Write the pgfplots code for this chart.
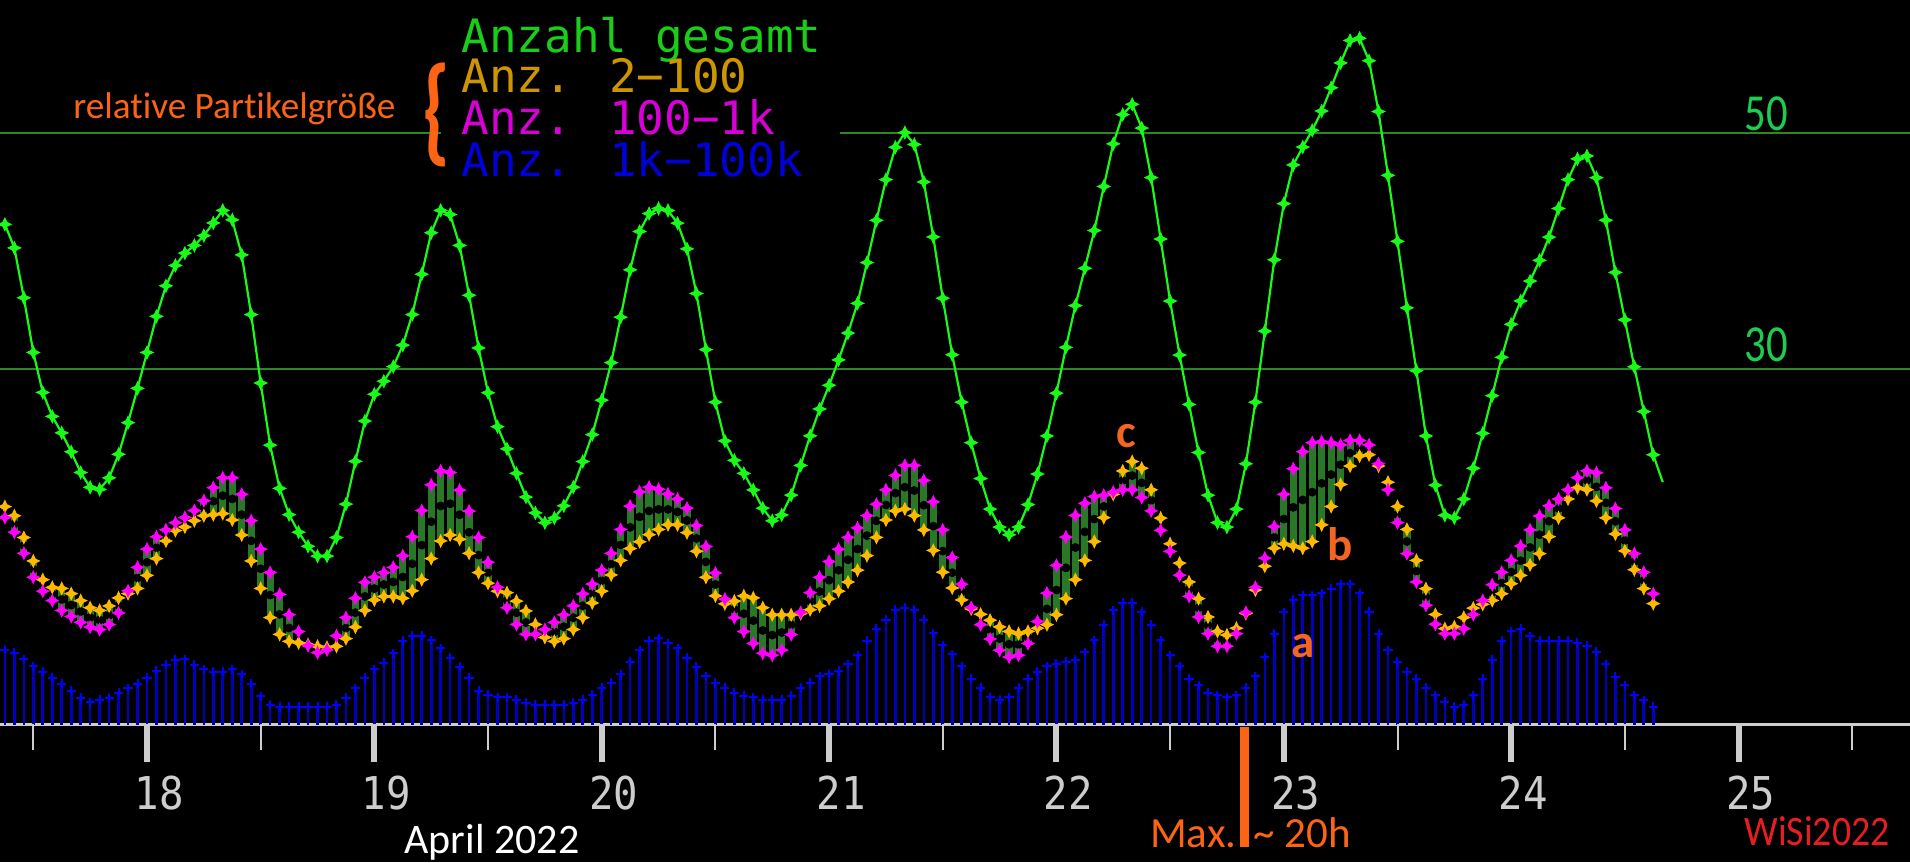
\documentclass[border=0pt]{standalone}
\usepackage{pgfplots}
\pgfplotsset{compat=1.18}
\usepackage{pgfplotstable}
\usepackage{graphicx}
\usepackage{fontspec}
\newfontfamily\carlito[Ligatures=NoCommon]{Carlito}
\newfontfamily\dvmono{DejaVu Sans Mono}

\definecolor{lineGreen}{RGB}{25,250,25}
\definecolor{gridGreen}{RGB}{45,135,40}
\definecolor{barGreen}{RGB}{40,120,40}
\definecolor{mag}{RGB}{255,0,255}
\definecolor{amber}{RGB}{255,185,0}
\definecolor{blueBar}{RGB}{0,0,190}
\definecolor{blueMark}{RGB}{0,0,255}
\definecolor{tickGray}{RGB}{205,205,205}
\definecolor{labGreen}{RGB}{30,205,80}
\definecolor{legGreen}{RGB}{25,205,25}
\definecolor{legGold}{RGB}{205,150,0}
\definecolor{legMag}{RGB}{215,0,215}
\definecolor{legBlue}{RGB}{0,0,215}
\definecolor{txtOrange}{RGB}{250,100,20}
\definecolor{annOrange}{RGB}{242,101,34}
\definecolor{wisiRed}{RGB}{230,30,36}

\pgfdeclareplotmark{spark}{%
  \pgfpathmoveto{\pgfqpoint{0pt}{\pgfplotmarksize}}%
  \pgfpathlineto{\pgfqpoint{0.32\pgfplotmarksize}{0.32\pgfplotmarksize}}%
  \pgfpathlineto{\pgfqpoint{\pgfplotmarksize}{0pt}}%
  \pgfpathlineto{\pgfqpoint{0.32\pgfplotmarksize}{-0.32\pgfplotmarksize}}%
  \pgfpathlineto{\pgfqpoint{0pt}{-\pgfplotmarksize}}%
  \pgfpathlineto{\pgfqpoint{-0.32\pgfplotmarksize}{-0.32\pgfplotmarksize}}%
  \pgfpathlineto{\pgfqpoint{-\pgfplotmarksize}{0pt}}%
  \pgfpathlineto{\pgfqpoint{-0.32\pgfplotmarksize}{0.32\pgfplotmarksize}}%
  \pgfpathclose
  \pgfusepathqfillstroke}

% Anzahl gesamt, hourly from 17 April 09:00
\pgfplotstableread[row sep=\\]{
g\\
42.25\\40.26\\36.05\\31.43\\28.05\\26.03\\24.64\\23.04\\21.29\\20.04\\
19.86\\20.84\\22.83\\25.50\\28.40\\31.43\\34.48\\37.06\\38.78\\39.82\\
40.47\\41.30\\42.37\\43.43\\42.63\\39.67\\34.63\\28.85\\23.60\\19.95\\
17.73\\16.25\\15.06\\14.23\\14.23\\15.80\\18.62\\22.24\\25.64\\27.90\\
29.00\\30.24\\32.05\\34.63\\38.04\\41.54\\43.43\\43.08\\40.47\\36.26\\
31.81\\28.03\\25.16\\23.29\\21.22\\19.22\\17.88\\17.05\\17.45\\18.48\\
20.05\\22.22\\24.49\\27.40\\30.57\\34.41\\38.41\\41.65\\43.16\\43.59\\
43.42\\42.35\\40.18\\36.41\\31.67\\27.23\\23.96\\22.32\\21.22\\19.82\\
18.28\\17.21\\17.71\\19.38\\21.89\\24.39\\26.66\\28.66\\30.80\\33.07\\
35.58\\39.02\\42.59\\46.03\\48.76\\50.00\\49.00\\45.83\\41.19\\36.01\\
31.24\\27.23\\23.81\\20.78\\18.20\\16.68\\16.03\\16.68\\18.58\\21.16\\
24.38\\27.99\\31.86\\35.39\\38.54\\41.73\\45.45\\49.05\\51.52\\52.39\\
50.38\\46.20\\41.01\\35.77\\31.21\\27.04\\22.98\\19.37\\17.06\\16.68\\
18.20\\22.03\\27.23\\33.23\\39.26\\44.00\\47.27\\48.78\\50.19\\51.82\\
53.79\\55.88\\57.78\\57.97\\56.07\\51.78\\46.39\\40.82\\35.20\\29.89\\
24.38\\20.22\\17.68\\17.46\\19.05\\21.65\\24.60\\27.78\\31.02\\33.81\\
35.78\\37.46\\39.21\\41.17\\43.59\\46.03\\47.78\\48.03\\46.19\\42.60\\
38.19\\34.19\\30.22\\26.44\\22.79\\20.48\\
}\tblG

% o = Anz. 2-100, m = Anz. 100-1k, b = Anz. 1k-100k (hourly)
\pgfplotstableread[row sep=\\]{
o m b\\
18.41 17.49 6.31\\ 17.64 16.25 6.08\\ 15.80 14.47 5.51\\ 13.82 12.45 4.92\\ 12.24 11.27 4.48\\
11.59 10.47 3.94\\ 11.50 9.64 3.44\\ 11.06 9.13 2.85\\ 10.47 8.63 2.25\\ 9.87 8.24 1.87\\
9.64 8.03 2.08\\ 10.02 8.45 2.25\\ 10.70 9.43 2.70\\ 11.06 11.30 3.05\\ 11.50 13.28 3.44\\
12.60 14.82 3.94\\ 14.02 15.86 4.54\\ 15.51 16.45 5.07\\ 16.39 17.05 5.48\\ 16.69 17.49 5.51\\
17.22 18.08 5.07\\ 17.64 18.91 4.68\\ 17.73 20.01 4.48\\ 17.82 20.84 4.48\\ 17.28 20.84 4.68\\
16.01 19.45 4.24\\ 13.82 17.22 3.44\\ 11.50 14.82 2.40\\ 9.04 12.84 1.66\\ 7.62 11.00 1.48\\
7.03 9.28 1.48\\ 6.91 7.86 1.48\\ 6.76 6.67 1.48\\ 6.61 6.08 1.48\\ 6.52 6.31 1.48\\
6.61 7.50 1.66\\ 7.26 9.04 2.25\\ 8.24 10.67 3.05\\ 9.64 12.01 3.94\\ 10.52 12.45 4.68\\
10.82 12.84 5.22\\ 10.82 13.28 6.02\\ 10.67 14.26 7.06\\ 11.30 15.86 7.50\\ 12.24 18.08 7.50\\
14.02 20.25 7.12\\ 15.51 21.43 6.46\\ 16.01 21.29 5.66\\ 15.65 19.80 4.89\\ 14.47 18.03 3.94\\
12.84 15.80 2.85\\ 11.94 13.71 2.52\\ 11.27 11.60 2.29\\ 11.14 9.87 2.29\\ 10.43 8.46 2.09\\
9.60 7.63 1.85\\ 8.46 7.63 1.69\\ 7.36 8.03 1.69\\ 7.03 8.63 1.69\\ 7.26 9.27 1.69\\
8.03 10.03 1.85\\ 9.03 11.04 2.09\\ 10.27 11.87 2.52\\ 11.27 13.04 3.09\\ 12.64 14.47 3.52\\
13.87 16.48 4.26\\ 14.87 18.45 5.29\\ 15.44 19.65 6.29\\ 16.04 20.05 7.10\\ 16.48 19.88 7.30\\
16.88 19.48 6.86\\ 16.88 19.05 6.46\\ 16.21 18.28 5.63\\ 14.64 16.81 4.86\\ 12.44 15.04 4.09\\
10.87 12.80 3.52\\ 10.20 10.60 3.09\\ 10.43 9.03 2.69\\ 10.87 7.86 2.45\\ 10.70 6.86 2.29\\
9.87 6.03 2.09\\ 9.27 5.86 2.09\\ 9.27 6.29 2.09\\ 9.27 7.60 2.45\\ 9.37 9.47 3.09\\
9.70 11.14 3.52\\ 10.03 12.44 4.09\\ 10.63 13.77 4.26\\ 11.27 14.81 4.52\\ 12.04 15.81 5.09\\
13.04 16.61 5.86\\ 14.27 17.65 7.10\\ 15.81 18.61 8.10\\ 17.28 19.82 8.86\\ 18.05 21.05 9.70\\
18.21 21.89 9.87\\ 17.65 21.89 9.70\\ 16.44 20.62 8.86\\ 14.71 18.81 7.70\\ 12.87 16.44 6.69\\
11.54 14.11 5.93\\ 10.53 11.86 4.91\\ 9.77 9.89 3.89\\ 9.32 8.44 3.13\\ 8.82 7.23 2.30\\
8.25 6.28 2.07\\ 7.87 5.71 2.30\\ 7.68 5.86 3.13\\ 7.87 6.85 3.89\\ 8.14 8.71 4.46\\
8.44 11.10 4.91\\ 9.28 13.45 5.14\\ 10.64 15.84 5.29\\ 12.24 17.67 5.48\\ 13.87 18.69 6.09\\
15.46 19.26 7.12\\ 17.48 19.37 8.44\\ 19.45 19.64 9.66\\ 21.42 19.83 10.27\\ 22.22 19.83 10.27\\
21.65 19.18 9.51\\ 19.83 18.05 8.44\\ 17.44 16.41 7.12\\ 15.27 14.63 5.86\\ 13.64 12.62 4.91\\
12.05 10.83 3.89\\ 10.64 9.09 3.32\\ 9.09 7.68 2.68\\ 7.87 6.62 2.49\\ 7.57 6.62 2.30\\
8.14 7.68 2.49\\ 9.39 9.47 3.13\\ 11.37 11.59 4.08\\ 13.38 14.06 5.67\\ 14.90 16.72 7.68\\
15.27 19.45 9.47\\ 15.09 21.61 10.53\\ 14.90 23.05 10.91\\ 15.46 23.81 10.91\\ 16.87 23.89 11.10\\
18.42 23.81 11.48\\ 20.28 23.62 11.86\\ 21.84 24.00 11.86\\ 22.68 24.00 11.10\\ 22.79 23.62 9.51\\
21.84 22.03 7.68\\ 20.47 19.83 6.28\\ 18.42 17.06 5.29\\ 16.49 14.44 4.46\\ 13.87 12.05 3.89\\
11.48 10.08 3.13\\ 9.30 8.48 2.48\\ 8.10 7.68 1.90\\ 8.25 7.68 1.49\\ 9.05 8.10 1.68\\
9.84 9.30 2.48\\ 10.16 10.48 3.87\\ 10.48 11.81 5.46\\ 11.05 12.86 7.08\\ 11.90 13.87 7.87\\
12.60 15.08 8.10\\ 13.49 16.44 7.46\\ 14.44 17.62 7.08\\ 15.87 18.48 7.08\\ 17.46 19.05 7.08\\
19.05 19.84 7.08\\ 20.00 20.86 6.89\\ 19.84 21.43 6.67\\ 18.89 21.27 6.13\\ 17.46 20.00 5.08\\
16.10 18.25 4.06\\ 14.67 16.44 3.33\\ 13.08 14.44 2.48\\ 11.49 12.86 2.06\\ 10.22 11.05 1.52\\
}\tblOMB

\begin{document}
\begin{tikzpicture}
\fill[black] (0,0) rectangle (955pt,431pt);
\begin{axis}[
  at={(0,0)}, anchor=south west,
  scale only axis, width=955pt, height=431pt,
  xmin=17.35346, xmax=25.75423, ymin=-11.605, ymax=61.199,
  hide axis, clip=true]
% grid lines and base line
\draw[gridGreen, line width=1pt] (axis cs:17.35346,50) -- (axis cs:25.75423,50);
\draw[gridGreen, line width=1pt] (axis cs:17.35346,30) -- (axis cs:25.75423,30);
\draw[tickGray, line width=1.15pt] (axis cs:17.35346,0) -- (axis cs:25.75423,0);
% Anz. 1k-100k
\addplot[ycomb, blueBar, line width=1.3pt, mark=+, mark size=2.3pt,
  mark options={blueMark, line width=1pt}]
  table[x expr=17.375+\coordindex/24, y=b] {\tblOMB};
% bars between Anz. 2-100 and Anz. 100-1k
\addplot[only marks, mark=none,
  error bars/.cd, y dir=both, y explicit, error mark=none,
  error bar style={solid, draw=barGreen, line width=3.6pt, line cap=butt}]
  table[x expr=17.375+\coordindex/24,
        y expr=(\thisrow{o}+\thisrow{m})/2,
        y error expr=abs(\thisrow{m}-\thisrow{o})/2] {\tblOMB};
% Anz. 2-100
\addplot[only marks, mark=spark, mark size=2.9pt,
  mark options={draw=amber, fill=amber, line width=0.6pt}]
  table[x expr=17.375+\coordindex/24, y=o] {\tblOMB};
% Anz. 100-1k
\addplot[only marks, mark=spark, mark size=2.9pt,
  mark options={draw=mag, fill=mag, line width=0.6pt}]
  table[x expr=17.375+\coordindex/24, y=m] {\tblOMB};
% Anzahl gesamt
\addplot[lineGreen, line width=1.1pt, mark=none]
  table[x expr=17.375+\coordindex/24, y=g] {\tblG};
\addplot[only marks, mark=spark, mark size=3pt,
  mark options={draw=lineGreen, fill=lineGreen, line width=0.6pt},
  restrict x to domain=17:24.64]
  table[x expr=17.375+\coordindex/24, y=g] {\tblG};
\end{axis}

\begin{scope}[x=0.5pt, y=-0.5pt, yshift=431pt]
  % legend block
  \fill[black] (441,0) rectangle (840,184);
  \begin{scope}[every node/.style={anchor=base west, inner sep=0pt,
      font=\dvmono\fontsize{23pt}{23pt}\selectfont}]
    \node[text=legGreen] at (461,53) {Anzahl gesamt};
    \node[text=legGold]  at (461,93) {Anz. 2−100};
    \node[text=legMag]   at (461,135) {Anz. 100−1k};
    \node[text=legBlue]  at (461,177) {Anz. 1k−100k};
  \end{scope}
  \node[anchor=base west, inner sep=0pt, text=txtOrange,
    font=\carlito\fontsize{18.6pt}{18.6pt}\selectfont] at (73,119) {relative Partikelgröße};
  \node[inner sep=0pt, text=txtOrange] at (436,115)
    {\resizebox*{14pt}{52pt}{\carlito\bfseries\{}};
  % grid labels
  \node[anchor=base, inner sep=0pt, text=labGreen,
    font=\carlito\fontsize{26pt}{26pt}\selectfont] at (1766,131) {\scalebox{0.82}[1]{50}};
  \node[anchor=base, inner sep=0pt, text=labGreen,
    font=\carlito\fontsize{26pt}{26pt}\selectfont] at (1766,362) {\scalebox{0.82}[1]{30}};
  % ticks
  \foreach \d in {0,...,7} {
    \fill[tickGray] ({147+\d*227.36-3},724) rectangle ({147+\d*227.36+3},762);
    \pgfmathtruncatemacro\lab{18+\d}
    \node[inner sep=0pt, text=tickGray, font=\dvmono\fontsize{22.6pt}{22.6pt}\selectfont]
      at ({147+\d*227.36+12},793) {\scalebox{0.9}[1]{\lab}};
  }
  \foreach \d in {0,...,8} {
    \fill[tickGray] ({33.32+\d*227.36-1},724) rectangle ({33.32+\d*227.36+1},750);
  }
  % bottom texts
  \node[anchor=base west, inner sep=0pt, text=white,
    font=\carlito\fontsize{21pt}{21pt}\selectfont] at (404,853) {April 2022};
  \fill[txtOrange] (1240,727) rectangle (1249,847);
  \node[anchor=base east, inner sep=0pt, text=txtOrange,
    font=\carlito\fontsize{21.5pt}{21.5pt}\selectfont] at (1237,847) {Max.};
  \node[anchor=base west, inner sep=0pt, text=txtOrange,
    font=\carlito\fontsize{21.5pt}{21.5pt}\selectfont] at (1253,847) {\textasciitilde{} 20h};
  \node[anchor=base east, inner sep=0pt, text=wisiRed,
    font=\carlito\fontsize{21pt}{21pt}\selectfont] at (1890,845) {\scalebox{0.9}[1]{WiSi2022}};
  % annotations
  \begin{scope}[every node/.style={inner sep=0pt, text=annOrange,
      font=\carlito\bfseries\fontsize{23.5pt}{23.5pt}\selectfont}]
    \node at (1126,436) {c};
    \node at (1340,544) {b};
    \node at (1303,646) {a};
  \end{scope}
\end{scope}
\pgfresetboundingbox
\path (0,0) rectangle (955pt,431pt);
\end{tikzpicture}
\end{document}
